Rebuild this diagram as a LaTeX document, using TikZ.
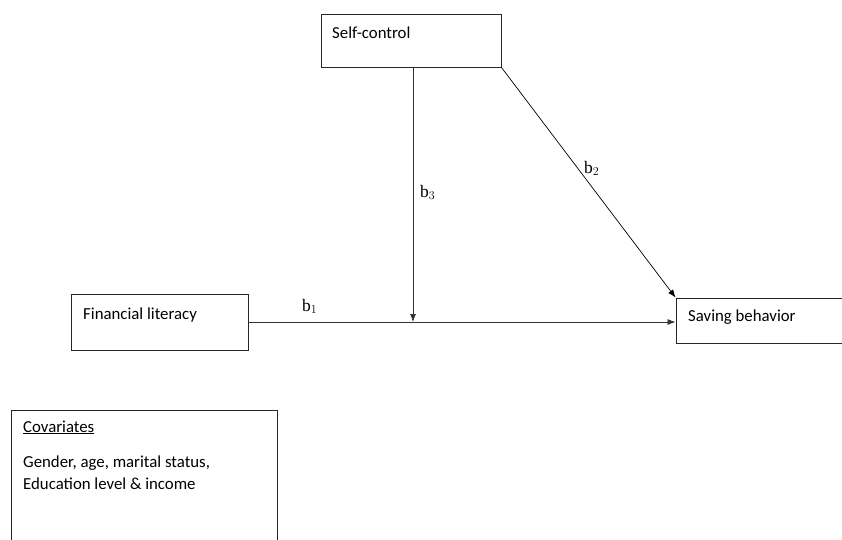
\documentclass[tikz,border=0pt]{standalone}
\usepackage{fontspec}
\setmainfont{Carlito}
\newfontfamily\coeffont{Liberation Serif}
\usetikzlibrary{arrows.meta}
\begin{document}
\begin{tikzpicture}[
    x=1pt, y=-1pt,
    box/.style={draw=black!85, line width=0.9pt, inner sep=0pt},
    txt/.style={anchor=base west, inner sep=0pt, font=\fontsize{16.8}{22}\selectfont, align=left},
    coef/.style={anchor=base west, inner sep=0pt, font=\coeffont\fontsize{17.5}{19}\selectfont},
    line/.style={draw=black!80, -{Latex[length=8pt, width=6pt]}, line width=0.8pt}
]
    \useasboundingbox (0,0) rectangle (842,539);
    \clip (0,0) rectangle (842,539);

    \node [box, minimum width=180pt, minimum height=53pt] (self) at (411,40.5) {};
    \node [box, minimum width=177pt, minimum height=56pt] (fin) at (159.5,322) {};
    \node [box, minimum width=224pt, minimum height=45pt] (sav) at (788,320.5) {};
    \node [box, minimum width=266pt, minimum height=170pt] (cov) at (144,495) {};

    \node [txt] (selftxt) at (332,38) {Self-control};
    \node [txt] (fintxt) at (83,319) {Financial literacy};
    \node [txt] (savtxt) at (688,321) {Saving behavior};
    \node [txt] (covtxt) at (23,432) {\underline{Covariates}};
    \node [txt] (covlist) at (23,489) {Gender, age, marital status,\\Education level \& income};

    \coordinate (mod) at (413,322);

    \draw [line] (fin.east) -- (fin.east -| sav.west);
    \draw [line] (self.south -| mod) -- (mod);
    \draw [line, line width=0.7pt, draw=black] (self.south east) -- (sav.north west);

    \node [coef] (b1) at (302,311) {b$_1$};
    \node [coef] (b3) at (420,197) {b$_3$};
    \node [coef] (b2) at (584,173) {b$_2$};
\end{tikzpicture}
\end{document}
